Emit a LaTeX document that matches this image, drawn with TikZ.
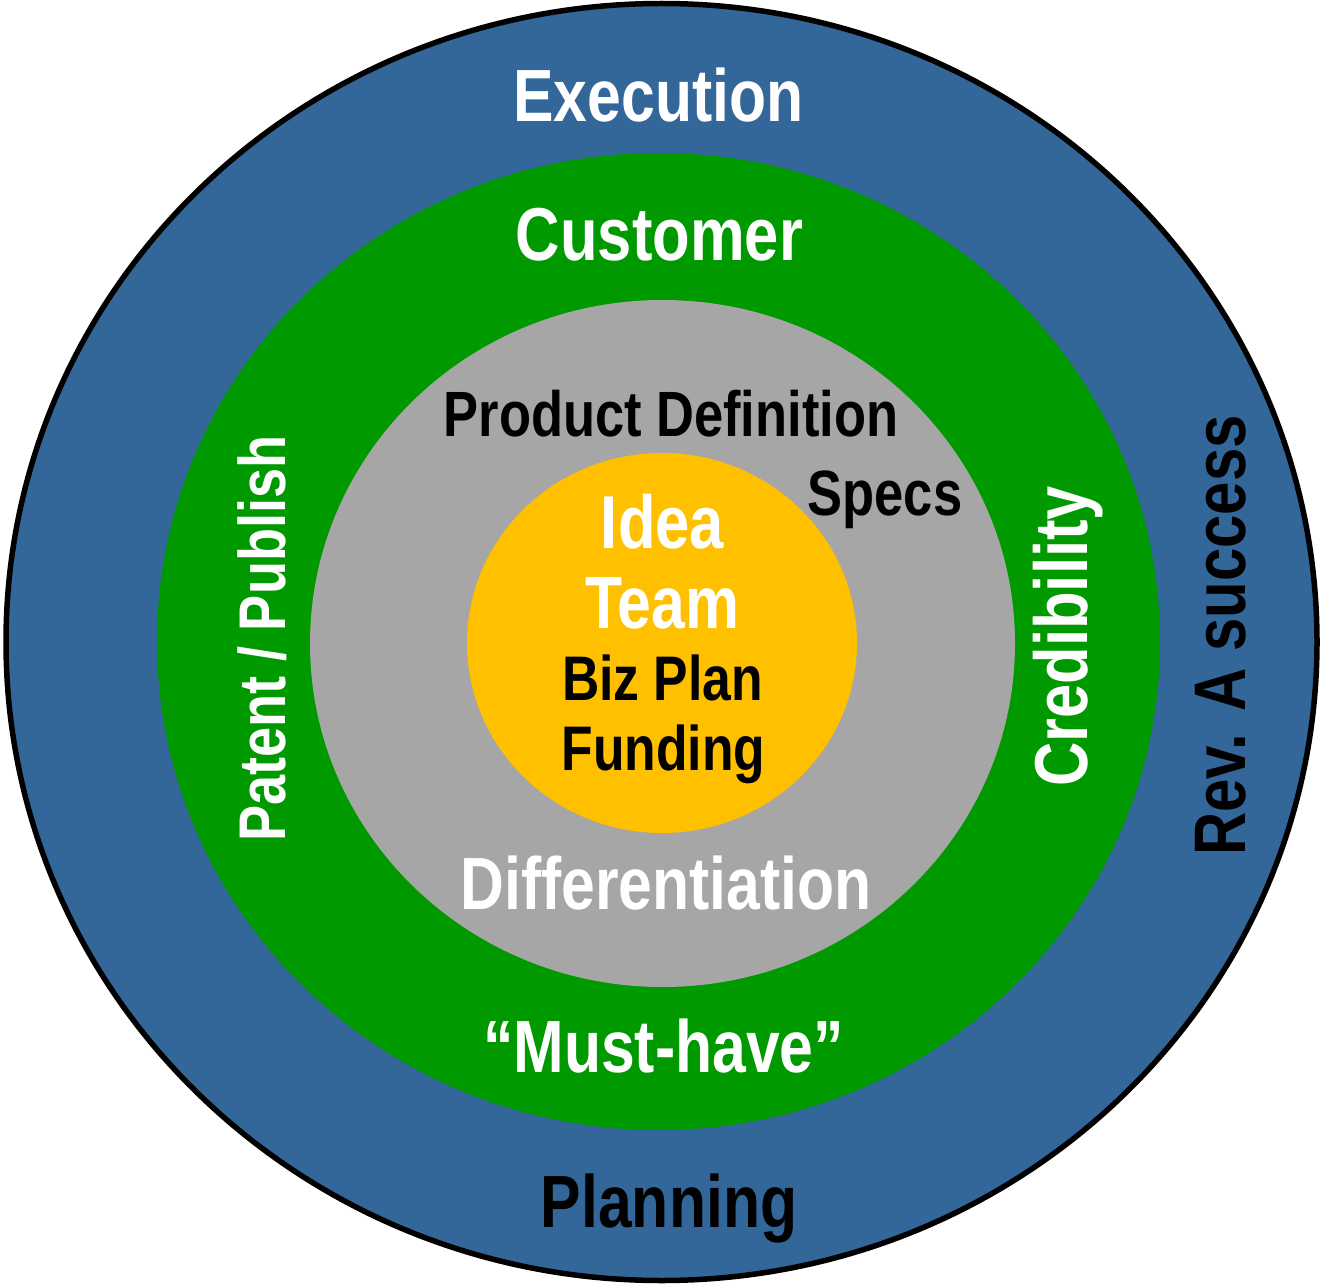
\documentclass[tikz,border=0pt]{standalone}
\usepackage{fontspec}
\newfontfamily\lbl{Liberation Sans}[FakeStretch=0.82]
\definecolor{ringblue}{RGB}{51,102,153}
\definecolor{ringgreen}{RGB}{0,153,0}
\definecolor{ringgray}{RGB}{166,166,166}
\definecolor{ringorange}{RGB}{255,192,0}
\tikzset{
  lab/.style={inner sep=0pt, anchor=base, font=\lbl\bfseries\fontsize{#1}{#1}\selectfont},
  wlab/.style={lab=#1, text=white},
  klab/.style={lab=#1, text=black},
}
\begin{document}
\begin{tikzpicture}[x=1pt, y=-1pt]
\useasboundingbox (0,0) rectangle (1323,1284);
\fill[white] (0,0) rectangle (1323,1284);
% nested rings
\draw[fill=ringblue, line width=5.5pt] (661.5,642) ellipse [x radius=655.5, y radius=638.5];
\fill[ringgreen] (658.5,641.5) ellipse [x radius=501.5, y radius=488.5];
\fill[ringgray] (662.5,643.5) ellipse [x radius=352.5, y radius=343.5];
\fill[ringorange] (662,643) ellipse [x radius=195, y radius=190];
% outer ring labels
\node[wlab=74] (exec) at (658.5,122) {Execution};
\node[klab=74] (plan) at (669,1227) {Planning};
\node[klab=73, rotate=90] (rev) at (1245,635.5) {Rev. A success};
% green ring labels
\node[wlab=75] (cust) at (659.5,261) {Customer};
\node[wlab=74] (must) at (663.5,1072) {“Must-have”};
\node[wlab=66, rotate=90] (pat) at (285,638.5) {Patent / Publish};
\node[wlab=75, rotate=90] (cred) at (1087,636.5) {Credibility};
% gray ring labels
\node[klab=64] (prod) at (671,436) {Product Definition};
\node[klab=64] (spec) at (885,515) {Specs};
\node[wlab=74] (diff) at (666,909) {Differentiation};
% core labels
\node[wlab=75] (idea) at (662.5,548) {Idea};
\node[wlab=74] (team) at (662,628) {Team};
\node[klab=63] (biz) at (662.5,700) {Biz Plan};
\node[klab=63] (fund) at (663.5,770) {Funding};
\end{tikzpicture}
\end{document}
